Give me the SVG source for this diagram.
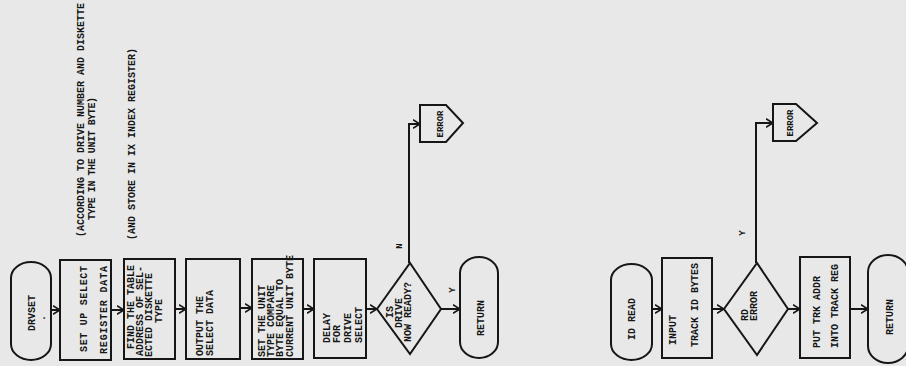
<svg xmlns="http://www.w3.org/2000/svg" width="906" height="366" viewBox="0 0 906 366">
<style>
.bg{fill:#e8e8e8}
.sh{fill:none;stroke:#161616;stroke-width:2}
.ln{fill:none;stroke:#161616;stroke-width:2}
.t{font-family:"Liberation Mono","DejaVu Sans Mono",monospace;font-weight:bold;font-size:10px;fill:#161616}
.s{font-size:9px}
.m{text-anchor:middle}
</style>
<defs>
<marker id="ar" viewBox="0 0 8 10" refX="7.5" refY="5" markerWidth="8" markerHeight="10" markerUnits="userSpaceOnUse" orient="auto">
<path d="M0.5,0.8 L7.5,5 L0.5,9.2" fill="none" stroke="#161616" stroke-width="1.6"/>
</marker>
</defs>
<rect class="bg" x="0" y="0" width="906" height="366"/>

<g id="notes">
<text class="t" transform="translate(83.5,237) rotate(-90)">(ACCORDING TO DRIVE NUMBER AND DISKETTE</text>
<text class="t" transform="translate(94.5,220) rotate(-90)" textLength="123" lengthAdjust="spacing">TYPE IN THE UNIT BYTE)</text>
<text class="t" transform="translate(135,240) rotate(-90)">(AND STORE IN IX INDEX REGISTER)</text>
</g>

<g id="connectors">
<line class="ln" x1="51" y1="310" x2="60" y2="310" marker-end="url(#ar)"/>
<line class="ln" x1="111" y1="310" x2="124" y2="310" marker-end="url(#ar)"/>
<line class="ln" x1="175" y1="309" x2="186" y2="309" marker-end="url(#ar)"/>
<line class="ln" x1="240" y1="308" x2="252" y2="308" marker-end="url(#ar)"/>
<line class="ln" x1="303" y1="309" x2="314" y2="309" marker-end="url(#ar)"/>
<line class="ln" x1="366" y1="309" x2="377" y2="309" marker-end="url(#ar)"/>
<line class="ln" x1="441" y1="309" x2="460" y2="309" marker-end="url(#ar)"/>
<polyline class="ln" points="409,263 409,124 420,124" marker-end="url(#ar)"/>
<line class="ln" x1="652" y1="309" x2="662" y2="309" marker-end="url(#ar)"/>
<line class="ln" x1="712" y1="309" x2="724" y2="309" marker-end="url(#ar)"/>
<line class="ln" x1="788" y1="309" x2="800" y2="309" marker-end="url(#ar)"/>
<line class="ln" x1="850" y1="309" x2="868" y2="309" marker-end="url(#ar)"/>
<polyline class="ln" points="756,263 756,123 773,123" marker-end="url(#ar)"/>
<text class="t s" transform="translate(402,246) rotate(-90)" text-anchor="middle">N</text>
<text class="t s" transform="translate(455,290) rotate(-90)" text-anchor="middle">Y</text>
<text class="t s" transform="translate(745,233) rotate(-90)" text-anchor="middle">Y</text>
</g>

<g id="drvset">
<rect class="sh" x="11" y="262" width="40" height="98" rx="20" ry="16"/>
<text class="t m" transform="translate(34.5,313) rotate(-90)">DRVSET</text>
<text class="t" transform="translate(44.5,321) rotate(-90)">.</text>
</g>

<g id="setup">
<rect class="sh" x="60" y="260" width="51" height="100"/>
<text class="t m" transform="translate(87,309) rotate(-90)" textLength="86" lengthAdjust="spacing">SET UP SELECT</text>
<text class="t m" transform="translate(107,310) rotate(-90)" textLength="88" lengthAdjust="spacing">REGISTER DATA</text>
</g>

<g id="findtable">
<rect class="sh" x="124" y="259" width="51" height="100"/>
<text class="t m" transform="translate(134,307) rotate(-90)">FIND THE TABLE</text>
<text class="t" transform="translate(143,356) rotate(-90)">ADDRESS OF SEL-</text>
<text class="t" transform="translate(152,357) rotate(-90)">ECTED DISKETTE</text>
<text class="t m" transform="translate(162,311) rotate(-90)">TYPE</text>
</g>

<g id="output">
<rect class="sh" x="186" y="259" width="54" height="100"/>
<text class="t" transform="translate(203,356) rotate(-90)">OUTPUT THE</text>
<text class="t" transform="translate(213,356) rotate(-90)">SELECT DATA</text>
</g>

<g id="setunit">
<rect class="sh" x="252" y="259" width="51" height="100"/>
<text class="t" transform="translate(265,357) rotate(-90)">SET THE UNIT</text>
<text class="t" transform="translate(274,357) rotate(-90)">TYPE COMPARE</text>
<text class="t" transform="translate(283,357) rotate(-90)">BYTE EQUAL TO</text>
<text class="t" transform="translate(293,357) rotate(-90)">CURRENT UNIT BYTE</text>
</g>

<g id="delay">
<rect class="sh" x="314" y="259" width="52" height="99"/>
<text class="t" transform="translate(329.5,343) rotate(-90)">DELAY</text>
<text class="t" transform="translate(339.5,343) rotate(-90)">FOR</text>
<text class="t" transform="translate(350.5,343) rotate(-90)">DRIVE</text>
<text class="t" transform="translate(361.5,343) rotate(-90)">SELECT</text>
</g>

<g id="ready">
<polygon class="sh" points="377,309 410,263 441,309 410,354"/>
<text class="t m" transform="translate(393,312) rotate(-90)">IS</text>
<text class="t m" transform="translate(402,313) rotate(-90)">DRIVE</text>
<text class="t m" transform="translate(411,312) rotate(-90)">NOW READY?</text>
</g>

<g id="error1">
<polygon class="sh" points="420,105 446,105 463,123 446,142 420,142"/>
<text class="t s m" transform="translate(443,124) rotate(-90)">ERROR</text>
</g>

<g id="return1">
<rect class="sh" x="460" y="257" width="38" height="101" rx="19" ry="16"/>
<text class="t m" transform="translate(483.5,318) rotate(-90)">RETURN</text>
</g>

<g id="idread">
<rect class="sh" x="611" y="264" width="41" height="96" rx="20.5" ry="16"/>
<text class="t m" transform="translate(635,319) rotate(-90)">ID READ</text>
</g>

<g id="input">
<rect class="sh" x="662" y="258" width="50" height="100"/>
<text class="t" transform="translate(676,345) rotate(-90)">INPUT</text>
<text class="t" transform="translate(698,347) rotate(-90)">TRACK ID BYTES</text>
</g>

<g id="rderror">
<polygon class="sh" points="724,309 757,263 788,309 757,355"/>
<text class="t" transform="translate(748,321) rotate(-90)">RD</text>
<text class="t" transform="translate(757,321) rotate(-90)">ERROR</text>
</g>

<g id="error2">
<polygon class="sh" points="773,104 796,104 817,123 796,141 773,141"/>
<text class="t s m" transform="translate(793,123) rotate(-90)">ERROR</text>
</g>

<g id="puttrk">
<rect class="sh" x="800" y="257" width="50" height="101"/>
<text class="t" transform="translate(820,348) rotate(-90)">PUT TRK ADDR</text>
<text class="t" transform="translate(838,348) rotate(-90)">INTO TRACK REG</text>
</g>

<g id="return2">
<rect class="sh" x="868" y="255" width="40" height="108" rx="20" ry="17"/>
<text class="t m" transform="translate(893,317) rotate(-90)">RETURN</text>
</g>
</svg>
